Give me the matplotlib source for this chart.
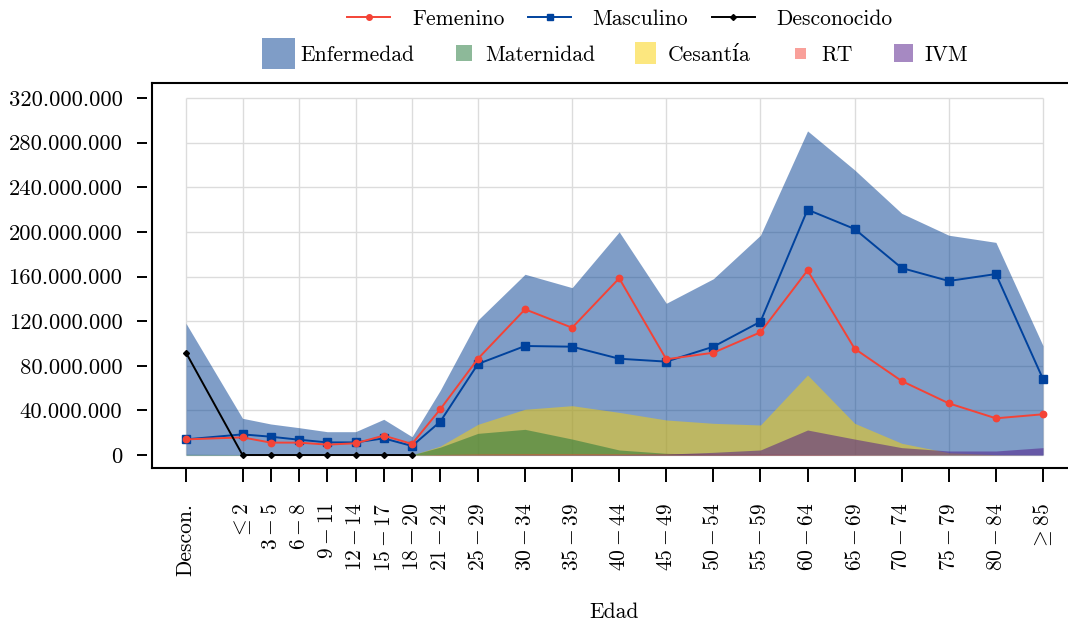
import numpy as np
import matplotlib
matplotlib.use('Agg')
import matplotlib.pyplot as plt
from matplotlib.ticker import FuncFormatter
from matplotlib.lines import Line2D
from matplotlib.patches import Rectangle, Patch
from matplotlib.legend_handler import HandlerPatch

# ---------------- data ----------------
edad_pos = [-6, 0, 3, 6, 9, 12, 15, 18, 21, 25, 30, 35, 40, 45, 50, 55, 60, 65, 70, 75, 80, 85]
edad_labels = ['Descon.', r'$\leq 2$', r'$3-5$', r'$6-8$', r'$9-11$', r'$12-14$', r'$15-17$',
               r'$18-20$', r'$21-24$', r'$25-29$', r'$30-34$', r'$35-39$', r'$40-44$',
               r'$45-49$', r'$50-54$', r'$55-59$', r'$60-64$', r'$65-69$', r'$70-74$',
               r'$75-79$', r'$80-84$', r'$\geq 85$']

# values in millions
enfermedad = [118, 32.9, 27.8, 24.5, 20.9, 20.9, 32.0, 16.4, 58, 121, 162, 150, 200, 136,
              158, 197, 290.5, 255.5, 216.6, 197, 190.6, 98]
maternidad = [0.6, 0.4, 0.1, 0.1, 0.1, 0.1, 0.1, 0.2, 7, 19.4, 23, 14.3, 4.5, 1.5, 0.5,
              0.2, 0.1, 0, 0, 0, 0, 0]
cesantia = [0, 0, 0, 0, 0, 0, 0, 0, 8, 27.5, 41, 44.2, 38.2, 31.4, 28.4, 26.9, 71.7, 28.4,
            10.5, 2, 0.3, 0]
rt = [0, 0, 0, 0, 0, 0, 0, 0, 0.5, 1, 1.2, 1.2, 1.1, 1, 0.9, 0.8, 0.5, 0.3, 0.1, 0, 0, 0]
ivm = [0, 0, 0, 0, 0, 0, 0, 0, 0.1, 0.2, 0.3, 0.3, 0.4, 0.8, 2.4, 4.5, 22.4, 14.3, 6.6,
       3.6, 3.6, 6.6]

femenino = [14.0, 15.8, 11.1, 11.1, 9.3, 10.5, 17.4, 9.9, 41, 86.3, 130.6, 114.1, 158.4,
            85.8, 91.7, 110, 165.5, 95.3, 66.3, 46.3, 32.9, 36.5]
masculino = [14.0, 18.5, 16.4, 13.7, 11.3, 11.3, 14.9, 8.1, 29.9, 81.6, 97.7, 97.1, 86.3,
             83.7, 97.1, 119.5, 219.9, 202.6, 167.6, 156, 162.2, 68.1]
desconocido = [91.7, 0, 0, 0, 0, 0, 0, 0]

y_ticks = [0, 40e6, 80e6, 120e6, 160e6, 200e6, 240e6, 280e6, 320e6]
grid_x = [-6, 0, 6, 12, 18, 25, 35, 45, 55, 65, 75, 85]

# ---------------- style ----------------
plt.rcParams['font.family'] = ['cmr10', 'DejaVu Serif']
plt.rcParams['mathtext.fontset'] = 'cm'
plt.rcParams['axes.unicode_minus'] = False
FS = 15.5

C_ENF = '#003d91'
C_MAT = '#1d7535'
C_CES = '#fbd100'
C_RT = '#f44336'
C_IVM = '#4f1587'
C_FEM = '#f44336'
C_MAS = '#00429d'
C_DES = '#000000'

W, H = 1068, 625
fig = plt.figure(figsize=(W / 100, H / 100), dpi=100)


def fx(px):
    return px / W


def fy(py):
    return 1 - py / H


ax = fig.add_axes([fx(152), fy(468), fx(1080) - fx(152), fy(83) - fy(468)])
ax.set_xlim(-9.61, 88.93)
ax.set_ylim(-11.65e6, 333.45e6)

M = 1e6
x = np.array(edad_pos, dtype=float)

# grid restricted to data range
ax.hlines(y_ticks, -6, 85, colors='#dcdcdc', lw=1.0, zorder=0.5)
ax.vlines(grid_x, 0, 320e6, colors='#dcdcdc', lw=1.0, zorder=0.5)

# areas (overlapping, semi-transparent)
ax.fill_between(x, 0, np.array(enfermedad) * M, color=C_ENF, alpha=0.5, lw=0, zorder=1)
ax.fill_between(x, 0, np.array(cesantia) * M, color=C_CES, alpha=0.5, lw=0, zorder=1.1)
ax.fill_between(x, 0, np.array(maternidad) * M, color=C_MAT, alpha=0.5, lw=0, zorder=1.2)
ax.fill_between(x, 0, np.array(rt) * M, color=C_RT, alpha=0.5, lw=0, zorder=1.3)
ax.fill_between(x, 0, np.array(ivm) * M, color=C_IVM, alpha=0.5, lw=0, zorder=1.4)

# lines
ax.plot(x, np.array(masculino) * M, color=C_MAS, lw=1.4, marker='s', ms=5.2, zorder=3)
ax.plot(x, np.array(femenino) * M, color=C_FEM, lw=1.4, marker='o', ms=4.6, zorder=3.2)
ax.plot(x[:len(desconocido)], np.array(desconocido) * M, color=C_DES, lw=1.4, marker='D',
        ms=3.0, zorder=3.4)

# axes frame / ticks
for s in ['top', 'bottom', 'right']:
    ax.spines[s].set_linewidth(1.5)
ax.spines['left'].set_position(('outward', 3.6))
ax.spines['left'].set_visible(False)
ax.plot([0, 0], [0, 1], transform=ax.transAxes, color='k', lw=1.5, clip_on=False,
        solid_capstyle='projecting', zorder=5)

ax.set_xticks(edad_pos)
ax.set_xticklabels(edad_labels, rotation=90, va='top', ha='center')
ax.set_yticks(y_ticks)
ax.yaxis.set_major_formatter(FuncFormatter(lambda v, p: f"{int(round(v)):,}".replace(',', '.')))
ax.tick_params(axis='x', direction='out', length=10, width=1.4, pad=15, labelsize=FS)
ax.tick_params(axis='y', direction='out', length=7.2, width=1.4, pad=10.5, labelsize=16.3)

fig.text(fx(614.5), fy(602), 'Edad', ha='center', va='top', fontsize=FS)

# ---------------- legends ----------------
class SizedPatch(HandlerPatch):
    def __init__(self, w, h):
        super().__init__()
        self.w = w
        self.h = h

    def create_artists(self, legend, orig_handle, xdescent, ydescent, width, height,
                       fontsize, trans):
        cx = -xdescent + width / 2
        cy = -ydescent + height / 2
        r = Rectangle((cx - self.w / 2, cy - self.h / 2), self.w, self.h,
                      facecolor=orig_handle.get_facecolor(), edgecolor='none',
                      transform=trans)
        return [r]


line_handles = [
    Line2D([], [], color=C_FEM, lw=1.4, marker='o', ms=4.0),
    Line2D([], [], color=C_MAS, lw=1.4, marker='s', ms=4.6),
    Line2D([], [], color=C_DES, lw=1.4, marker='D', ms=3.0),
]
leg1 = fig.legend(line_handles, ['Femenino', 'Masculino', 'Desconocido'], ncol=3,
                  loc='center', bbox_to_anchor=(fx(620), fy(19)), frameon=False,
                  fontsize=FS, handlelength=2.0, handletextpad=1.0, columnspacing=1.1,
                  borderpad=0, numpoints=1, borderaxespad=0)

pt = 72 / 100  # px -> pt
patch_handles = [Patch(facecolor=C_ENF, alpha=0.5), Patch(facecolor=C_MAT, alpha=0.5),
                 Patch(facecolor=C_CES, alpha=0.5), Patch(facecolor=C_RT, alpha=0.5),
                 Patch(facecolor=C_IVM, alpha=0.5)]
sizes = [(33, 31), (16, 16), (21, 22), (11, 11), (19, 18)]
hmap = {h: SizedPatch(w * pt, hh * pt) for h, (w, hh) in zip(patch_handles, sizes)}
leg2 = fig.legend(patch_handles, ['Enfermedad', 'Maternidad', 'Cesantía', 'RT', 'IVM'],
                  ncol=5, loc='center', bbox_to_anchor=(fx(615), fy(55)), frameon=False,
                  fontsize=FS, handlelength=1.58, handletextpad=0.2, columnspacing=1.55,
                  borderpad=0, handler_map=hmap, borderaxespad=0)

fig.savefig('out.png', dpi=100)
